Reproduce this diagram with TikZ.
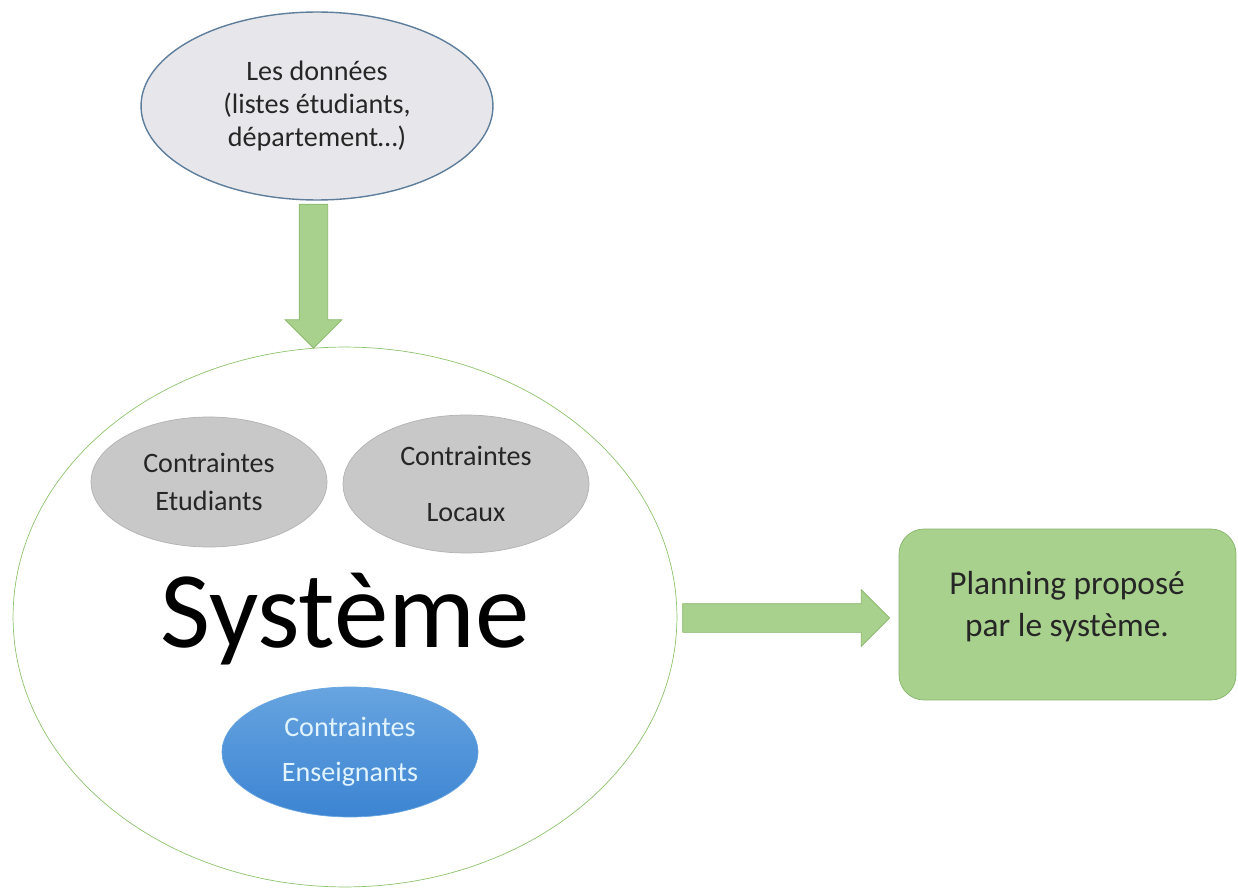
\documentclass[tikz,border=0pt]{standalone}
\usepackage{fontspec}
\setmainfont{Carlito}
\usetikzlibrary{shapes.geometric,shapes.arrows}

\definecolor{donneesfill}{HTML}{E7E7EB}
\definecolor{donneesdraw}{HTML}{5E7E9C}
\definecolor{systemedraw}{HTML}{8EC46E}
\definecolor{grisfill}{HTML}{C8C8C8}
\definecolor{grisdraw}{HTML}{B2B2B2}
\definecolor{bleuhaut}{HTML}{67A4E0}
\definecolor{bleubas}{HTML}{3C84D2}
\definecolor{bleutxt}{HTML}{E0F3FF}
\definecolor{vertfill}{HTML}{A9D18E}
\definecolor{vertdraw}{HTML}{86B568}

\begin{document}
\begin{tikzpicture}[x=0.02cm,y=-0.02cm,
    txt/.style={font=\fontsize{16}{19}\selectfont, align=center, text=black!85},
    bulle/.style={ellipse, inner sep=0pt, txt},
    grise/.style={bulle, draw=grisdraw, fill=grisfill},
    fleche/.style={single arrow, draw=vertdraw, fill=vertfill, inner sep=0.28cm,
        single arrow head extend=0.28cm}]
        \useasboundingbox (0,0) rectangle (1238,892);

        \node[bulle, draw=donneesdraw, fill=donneesfill, line width=0.8pt,
            minimum width=7.04cm, minimum height=3.76cm] (donnees) at (317,106)
            {Les données\\(listes étudiants,\\département…)};

        \node[ellipse, draw=systemedraw, fill=white, inner sep=0pt,
            minimum width=13.28cm, minimum height=10.8cm] (systeme) at (345,617) {};

        \node[grise, minimum width=4.72cm, minimum height=2.6cm,
            font=\fontsize{16}{22}\selectfont] (etudiants) at (209,482)
            {Contraintes\\Etudiants};
        \node[grise, minimum width=4.92cm, minimum height=2.76cm,
            font=\fontsize{16}{32}\selectfont] (locaux) at (466,484)
            {Contraintes\\Locaux};

        \node[font=\fontsize{62}{70}\selectfont, anchor=base] (titre) at (345,647) {Système};

        \node[bulle, top color=bleuhaut, bottom color=bleubas, draw=bleuhaut,
            minimum width=5.12cm, minimum height=2.6cm, text=bleutxt,
            font=\fontsize{16}{25.5}\selectfont] (enseignants) at (350,752)
            {Contraintes\\Enseignants};

        \node[fleche, rotate=-90, minimum height=2.88cm] (flechebas) at (313.5,269) {};
        \node[fleche, minimum height=4.14cm] (flechedroite) at (779,618) {};

        \node[draw=vertdraw, fill=vertfill, rounded corners=0.5cm,
            minimum width=6.74cm, minimum height=3.42cm] (planning) at (1067.5,614.5) {};
        \node[txt, font=\fontsize{19}{24}\selectfont] (planningtxt) at (1067,607)
            {Planning proposé\\par le système.};
\end{tikzpicture}
\end{document}
